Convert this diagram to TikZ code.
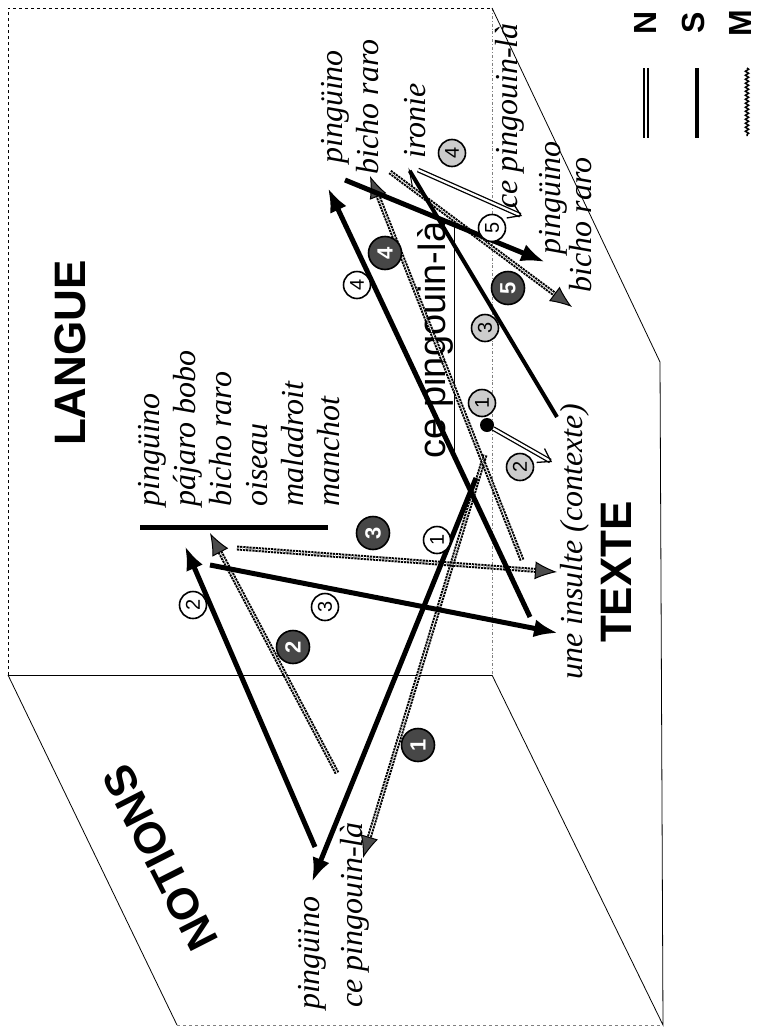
\documentclass[tikz,border=0pt]{standalone}
\usepackage{fontspec}
\setmainfont{Liberation Serif}
\setsansfont{Liberation Sans}
\usepackage{xcolor}
\usetikzlibrary{arrows.meta}
\usetikzlibrary{decorations.pathmorphing}

\begin{document}
\begin{tikzpicture}[x=1pt,y=-1pt,
  wall/.style={black,line width=0.8pt},
  lbl/.style={rotate=90,inner sep=0pt,font=\fontsize{32}{36}\selectfont\itshape},
  big/.style={rotate=90,inner sep=0pt,font=\fontsize{44}{44}\selectfont\sffamily\bfseries},
  key/.style={rotate=90,inner sep=0pt,font=\fontsize{32}{32}\selectfont\sffamily\bfseries},
  sline/.style={line width=5pt,-{Latex[length=24pt,width=18pt]}},
  nline/.style={double,double distance=2.2pt,line width=1.3pt,-{Straight Barb[length=12pt,width=16pt,line width=1.3pt]}},
  mline/.style={double=white,double distance=0.9pt,line width=2pt,dash pattern=on 2.2pt off 0.9pt,
    -{Latex[length=22pt,width=18pt,fill=black!70,line width=1pt]}},
  numS/.style={circle,draw,line width=1.6pt,fill=white,minimum size=27pt,inner sep=0pt,rotate=90,
    font=\fontsize{20}{20}\selectfont\sffamily},
  numN/.style={numS,fill=black!20},
  numM/.style={numS,fill=black!72,text=white,minimum size=33pt,font=\fontsize{22}{22}\selectfont\sffamily\bfseries}]

\useasboundingbox (0,0) rectangle (762,1028);

% box: back wall, floor, side wall
\coordinate (b1) at (8,8);
\coordinate (b2) at (492,8);
\coordinate (b3) at (492,675);
\coordinate (b4) at (8,675);
\coordinate (f1) at (177,1025);
\coordinate (f2) at (663,1025);
\coordinate (w1) at (660,362);

\draw[wall,dashed] (b4)--(b1)--(b2);
\draw[wall] (b4)--(b3);
\draw[wall,gray,dash dot] (b2)--(b3);
\draw[wall] (b2)--(w1)--(f2)--(b3);
\draw[wall] (b4)--(f1);
\draw[wall,gray,dashed] (f1)--(f2);

\node (langue) [big] at (70,353) {LANGUE};
\node (texte) [big] at (616,572) {TEXTE};
\node (notions) [big,rotate=27] at (160,858) {NOTIONS};

% words
\node (liste) [lbl,align=left,anchor=north west] at (138,507)
  {pingüino\\pájaro bobo\\bicho raro\\oiseau\\maladroit\\manchot};
\draw[line width=5pt] (140,527)--(328,527);
\node (haut) [lbl,align=center] at (350,107) {pingüino\\bicho raro};
\node (ironie) [lbl] at (415,121) {ironie};
\node (pingA) [lbl] at (510,116) {ce pingouin-là};
\node (pingB) [lbl] at (553,198) {pingüino};
\node (bichoB) [lbl] at (581,225) {bicho raro};
\node (insulte) [lbl] at (575,542) {une insulte (contexte)};
\node (pingC) [lbl] at (312,953) {pingüino};
\node (pingD) [lbl] at (355,915) {ce pingouin-là};
\node (ce) [rotate=90,inner sep=0pt,font=\fontsize{38}{38}\selectfont\sffamily] at (436,340)
  {\underline{ce pingouin-là}};

% M
\coordinate (m1a) at (485,455); \coordinate (m1b) at (363,858);
\coordinate (m2a) at (337,773); \coordinate (m2b) at (210,533);
\coordinate (m3a) at (237,548); \coordinate (m3b) at (557,572);
\coordinate (m4a) at (522,560); \coordinate (m4b) at (370,176);
\coordinate (m5a) at (390,172); \coordinate (m5b) at (572,307);
\draw[mline] (m1a)--(m1b);
\draw[mline] (m2a)--(m2b);
\draw[mline] (m3a)--(m3b);
\draw[mline] (m4a)--(m4b);
\draw[mline] (m5a)--(m5b);

% S
\coordinate (s1a) at (476,478); \coordinate (s1b) at (312,882);
\coordinate (s2a) at (315,847); \coordinate (s2b) at (185,546);
\coordinate (s3a) at (210,565); \coordinate (s3b) at (558,633);
\coordinate (s4a) at (530,617); \coordinate (s4b) at (328,188);
\coordinate (s5a) at (345,180); \coordinate (s5b) at (545,262);
\coordinate (s6a) at (557,417); \coordinate (s6b) at (408,168);
\draw[sline] (s1a)--(s1b);
\draw[sline] (s2a)--(s2b);
\draw[sline] (s3a)--(s3b);
\draw[sline] (s4a)--(s4b);
\draw[sline] (s5a)--(s5b);
\draw[line width=4pt,-{Straight Barb[left,length=16pt,width=12pt,line width=1pt]}] (s6a)--(s6b);

% N
\node (dot) [circle,fill,inner sep=0pt,minimum size=14pt] at (487,425) {};
\coordinate (n2b) at (552,462);
\coordinate (n4a) at (418,170); \coordinate (n4b) at (522,216);
\draw[nline] (dot)--(n2b);
\draw[nline] (n4a)--(n4b);

% numbers
\node (c1) [numS] at (437,540) {1};
\node (c2) [numS] at (193,605) {2};
\node (c3) [numS] at (325,607) {3};
\node (c4) [numS] at (357,285) {4};
\node (c5) [numS] at (492,228) {5};
\node (d1) [numN] at (482,403) {1};
\node (d2) [numN] at (520,467) {2};
\node (d3) [numN] at (485,328) {3};
\node (d4) [numN] at (452,153) {4};
\node (e1) [numM] at (418,745) {1};
\node (e2) [numM] at (293,647) {2};
\node (e3) [numM] at (373,533) {3};
\node (e4) [numM] at (385,253) {4};
\node (e5) [numM] at (508,288) {5};

% legend
\node (kN) [key] at (645,23) {N};
\node (kS) [key] at (693,23) {S};
\node (kM) [key] at (740,23) {M};
\draw[double,double distance=2pt,line width=1.8pt] (646,68)--(646,138);
\draw[line width=4.5pt] (697,68)--(697,138);
\draw[line width=1.5pt,decorate,decoration={snake,amplitude=1.6pt,segment length=4pt}] (747,68)--(747,136);

\end{tikzpicture}
\end{document}
